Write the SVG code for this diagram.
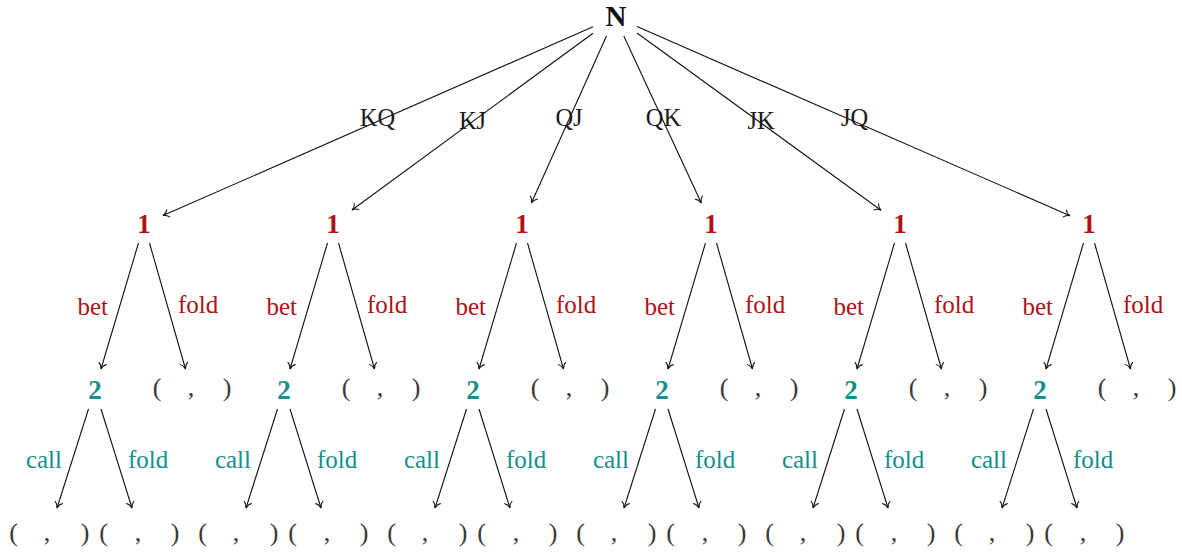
<svg xmlns="http://www.w3.org/2000/svg" width="1182" height="552" viewBox="0 0 1182 552">
<style>
text{font-family:"Liberation Serif","Times New Roman",serif}
.n{font-size:29px;font-weight:bold;fill:#111;text-anchor:middle}
.p1{font-size:27px;font-weight:bold;fill:#AE1318;text-anchor:middle}
.p2{font-size:27px;font-weight:bold;fill:#138F8C;text-anchor:middle}
.lab{font-size:24.5px;fill:#1a1a1a;text-anchor:middle}
.l1{font-size:25px;fill:#AE1318}
.l2{font-size:25px;fill:#138F8C}
.e{text-anchor:end}
.leaf{font-size:26px;fill:#3a3a3a;text-anchor:middle}
.edge{stroke:#111;stroke-width:1.1;fill:none;marker-end:url(#arr)}
</style>
<defs>
<marker id="arr" markerUnits="userSpaceOnUse" markerWidth="14" markerHeight="14" viewBox="-8 -7 10 14" refX="0" refY="0" orient="auto">
<path d="M-6,-4.2 C-4.8,-2 -2.2,-0.5 0,0 C-2.2,0.5 -4.8,2 -6,4.2" stroke="#111" stroke-width="1" fill="none"/>
</marker>
</defs>
<g id="connectors">
<line class="edge" x1="593" y1="26.7" x2="163" y2="215.6"/>
<line class="edge" x1="593" y1="33.2" x2="352" y2="210"/>
<line class="edge" x1="606.5" y1="36" x2="531.4" y2="203"/>
<line class="edge" x1="623.8" y1="36" x2="701.3" y2="203"/>
<line class="edge" x1="637" y1="33" x2="881" y2="210.2"/>
<line class="edge" x1="637" y1="26.6" x2="1070" y2="215.7"/>
<line class="edge" x1="138.5" y1="243" x2="101" y2="369"/>
<line class="edge" x1="149.5" y1="243" x2="185.5" y2="369"/>
<line class="edge" x1="88.5" y1="409" x2="57" y2="508"/>
<line class="edge" x1="101" y1="409" x2="132" y2="508"/>
<line class="edge" x1="327.5" y1="243" x2="290" y2="369"/>
<line class="edge" x1="338.5" y1="243" x2="374.5" y2="369"/>
<line class="edge" x1="277.5" y1="409" x2="246" y2="508"/>
<line class="edge" x1="290" y1="409" x2="321" y2="508"/>
<line class="edge" x1="516.5" y1="243" x2="479" y2="369"/>
<line class="edge" x1="527.5" y1="243" x2="563.5" y2="369"/>
<line class="edge" x1="466.5" y1="409" x2="435" y2="508"/>
<line class="edge" x1="479" y1="409" x2="510" y2="508"/>
<line class="edge" x1="705.5" y1="243" x2="668" y2="369"/>
<line class="edge" x1="716.5" y1="243" x2="752.5" y2="369"/>
<line class="edge" x1="655.5" y1="409" x2="624" y2="508"/>
<line class="edge" x1="668" y1="409" x2="699" y2="508"/>
<line class="edge" x1="894.5" y1="243" x2="857" y2="369"/>
<line class="edge" x1="905.5" y1="243" x2="941.5" y2="369"/>
<line class="edge" x1="844.5" y1="409" x2="813" y2="508"/>
<line class="edge" x1="857" y1="409" x2="888" y2="508"/>
<line class="edge" x1="1083.5" y1="243" x2="1046" y2="369"/>
<line class="edge" x1="1094.5" y1="243" x2="1130.5" y2="369"/>
<line class="edge" x1="1033.5" y1="409" x2="1002" y2="508"/>
<line class="edge" x1="1046" y1="409" x2="1077" y2="508"/>
</g>
<g id="edge-labels">
<text class="lab" x="377.5" y="126">KQ</text>
<text class="lab" x="472.5" y="129">KJ</text>
<text class="lab" x="569" y="126">QJ</text>
<text class="lab" x="663.5" y="126">QK</text>
<text class="lab" x="761" y="129">JK</text>
<text class="lab" x="854.5" y="126">JQ</text>
<text class="l1 e" x="108" y="315">bet</text><text class="l1" x="178" y="313">fold</text>
<text class="l1 e" x="297" y="315">bet</text><text class="l1" x="367" y="313">fold</text>
<text class="l1 e" x="486" y="315">bet</text><text class="l1" x="556" y="313">fold</text>
<text class="l1 e" x="675" y="315">bet</text><text class="l1" x="745" y="313">fold</text>
<text class="l1 e" x="864" y="315">bet</text><text class="l1" x="934" y="313">fold</text>
<text class="l1 e" x="1053" y="315">bet</text><text class="l1" x="1123" y="313">fold</text>
<text class="l2 e" x="62" y="468">call</text><text class="l2" x="128" y="468">fold</text>
<text class="l2 e" x="251" y="468">call</text><text class="l2" x="317" y="468">fold</text>
<text class="l2 e" x="440" y="468">call</text><text class="l2" x="506" y="468">fold</text>
<text class="l2 e" x="629" y="468">call</text><text class="l2" x="695" y="468">fold</text>
<text class="l2 e" x="818" y="468">call</text><text class="l2" x="884" y="468">fold</text>
<text class="l2 e" x="1007" y="468">call</text><text class="l2" x="1073" y="468">fold</text>
</g>
<g id="root"><text class="n" x="616" y="26">N</text></g>
<g id="p1-KQ"><text class="p1" x="144" y="233">1</text></g>
<g id="p1-KJ"><text class="p1" x="333" y="233">1</text></g>
<g id="p1-QJ"><text class="p1" x="522" y="233">1</text></g>
<g id="p1-QK"><text class="p1" x="711" y="233">1</text></g>
<g id="p1-JK"><text class="p1" x="900" y="233">1</text></g>
<g id="p1-JQ"><text class="p1" x="1089" y="233">1</text></g>
<g id="p2-KQ"><text class="p2" x="95" y="399">2</text></g>
<g id="p2-KJ"><text class="p2" x="284" y="399">2</text></g>
<g id="p2-QJ"><text class="p2" x="473" y="399">2</text></g>
<g id="p2-QK"><text class="p2" x="662" y="399">2</text></g>
<g id="p2-JK"><text class="p2" x="851" y="399">2</text></g>
<g id="p2-JQ"><text class="p2" x="1040" y="399">2</text></g>
<g id="leaf-KQ-fold"><text class="leaf" y="396"><tspan x="157">(</tspan><tspan x="191">,</tspan><tspan x="227">)</tspan></text></g>
<g id="leaf-KJ-fold"><text class="leaf" y="396"><tspan x="346">(</tspan><tspan x="380">,</tspan><tspan x="416">)</tspan></text></g>
<g id="leaf-QJ-fold"><text class="leaf" y="396"><tspan x="535">(</tspan><tspan x="569">,</tspan><tspan x="605">)</tspan></text></g>
<g id="leaf-QK-fold"><text class="leaf" y="396"><tspan x="724">(</tspan><tspan x="758">,</tspan><tspan x="794">)</tspan></text></g>
<g id="leaf-JK-fold"><text class="leaf" y="396"><tspan x="913">(</tspan><tspan x="947">,</tspan><tspan x="983">)</tspan></text></g>
<g id="leaf-JQ-fold"><text class="leaf" y="396"><tspan x="1102">(</tspan><tspan x="1136">,</tspan><tspan x="1172">)</tspan></text></g>
<g id="leaf-KQ-bet-call"><text class="leaf" y="541"><tspan x="13.5">(</tspan><tspan x="47">,</tspan><tspan x="85">)</tspan></text></g>
<g id="leaf-KQ-bet-fold"><text class="leaf" y="541"><tspan x="103.5">(</tspan><tspan x="138">,</tspan><tspan x="175">)</tspan></text></g>
<g id="leaf-KJ-bet-call"><text class="leaf" y="541"><tspan x="202.5">(</tspan><tspan x="236">,</tspan><tspan x="274">)</tspan></text></g>
<g id="leaf-KJ-bet-fold"><text class="leaf" y="541"><tspan x="292.5">(</tspan><tspan x="327">,</tspan><tspan x="364">)</tspan></text></g>
<g id="leaf-QJ-bet-call"><text class="leaf" y="541"><tspan x="391.5">(</tspan><tspan x="425">,</tspan><tspan x="463">)</tspan></text></g>
<g id="leaf-QJ-bet-fold"><text class="leaf" y="541"><tspan x="481.5">(</tspan><tspan x="516">,</tspan><tspan x="553">)</tspan></text></g>
<g id="leaf-QK-bet-call"><text class="leaf" y="541"><tspan x="580.5">(</tspan><tspan x="614">,</tspan><tspan x="652">)</tspan></text></g>
<g id="leaf-QK-bet-fold"><text class="leaf" y="541"><tspan x="670.5">(</tspan><tspan x="705">,</tspan><tspan x="742">)</tspan></text></g>
<g id="leaf-JK-bet-call"><text class="leaf" y="541"><tspan x="769.5">(</tspan><tspan x="803">,</tspan><tspan x="841">)</tspan></text></g>
<g id="leaf-JK-bet-fold"><text class="leaf" y="541"><tspan x="859.5">(</tspan><tspan x="894">,</tspan><tspan x="931">)</tspan></text></g>
<g id="leaf-JQ-bet-call"><text class="leaf" y="541"><tspan x="958.5">(</tspan><tspan x="992">,</tspan><tspan x="1030">)</tspan></text></g>
<g id="leaf-JQ-bet-fold"><text class="leaf" y="541"><tspan x="1048.5">(</tspan><tspan x="1083">,</tspan><tspan x="1120">)</tspan></text></g>
</svg>
